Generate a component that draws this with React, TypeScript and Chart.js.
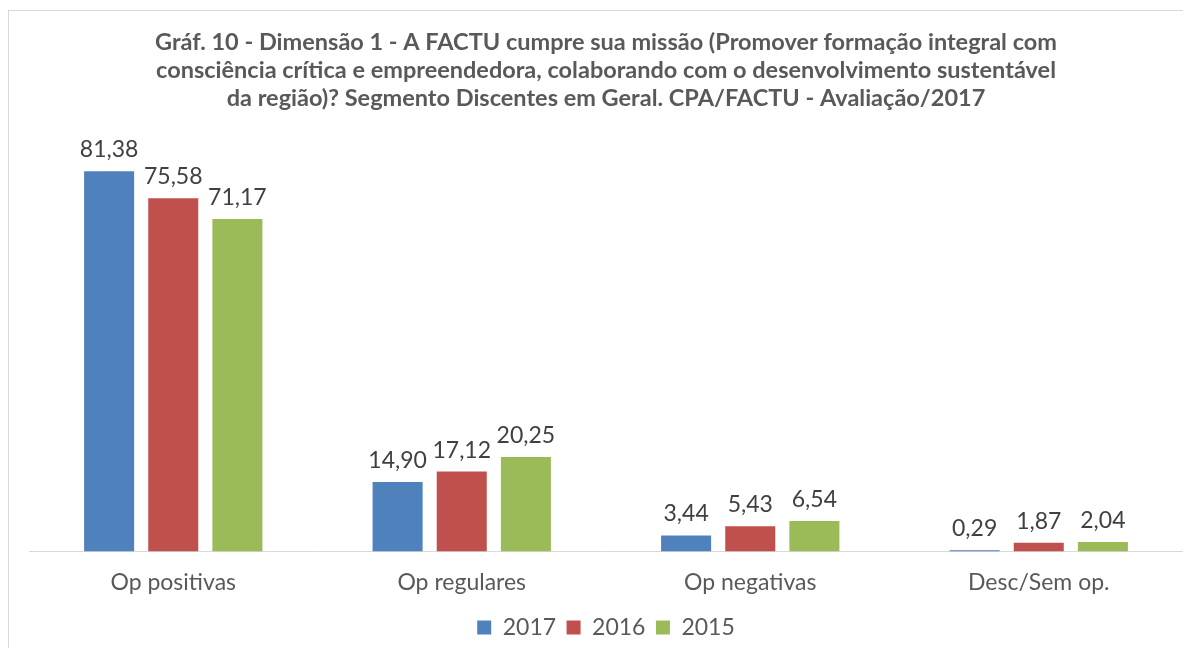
import React, { useEffect, useRef } from "react";
import { Chart, registerables } from "chart.js";

Chart.register(...registerables);

const categories = ["Op positivas", "Op regulares", "Op negativas", "Desc/Sem op."];
const seriesNames = ["2017", "2016", "2015"];
const values2017 = [81.38, 14.9, 3.44, 0.29];
const values2016 = [75.58, 17.12, 5.43, 1.87];
const values2015 = [71.17, 20.25, 6.54, 2.04];
const colors = ["#4F81BD", "#C0504D", "#9BBB59"];
const titleLines = [
  "Gráf. 10 - Dimensão 1 - A FACTU cumpre sua missão (Promover formação integral com",
  "consciência crítica e empreendedora, colaborando com o desenvolvimento sustentável",
  "da região)? Segmento Discentes em Geral. CPA/FACTU - Avaliação/2017",
];

const FONT = "Lato, 'Open Sans', sans-serif";

const valueLabels = {
  id: "valueLabels",
  afterDatasetsDraw(chart: any) {
    const ctx = chart.ctx;
    ctx.save();
    ctx.font = `23px ${FONT}`;
    ctx.fillStyle = "#404040";
    ctx.textAlign = "center";
    ctx.textBaseline = "alphabetic";
    chart.data.datasets.forEach((ds: any, i: number) => {
      const meta = chart.getDatasetMeta(i);
      meta.data.forEach((el: any, j: number) => {
        const v = ds.data[j] as number;
        ctx.fillText(v.toFixed(2).replace(".", ","), el.x, el.y - 14);
      });
    });
    ctx.restore();
  },
};

export default function App() {
  const ref = useRef<HTMLCanvasElement>(null);
  useEffect(() => {
    document.body.style.overflow = "hidden";
    const chart = new Chart(ref.current!, {
      type: "bar",
      data: {
        labels: categories,
        datasets: [values2017, values2016, values2015].map((d, i) => ({
          label: seriesNames[i],
          data: d,
          backgroundColor: colors[i],
          barPercentage: 0.78,
          categoryPercentage: 0.667,
        })),
      },
      options: {
        animation: false,
        responsive: false,
        layout: { padding: { left: 20, right: 8, top: 0, bottom: 0 } },
        plugins: {
          title: {
            display: true,
            text: titleLines,
            color: "#595959",
            font: { family: FONT, size: 23.5, weight: "bold", lineHeight: 28 / 23.5 },
            padding: { top: 17, bottom: 19 },
          },
          legend: {
            position: "bottom",
            labels: {
              color: "#595959",
              font: { family: FONT, size: 23 },
              boxWidth: 14,
              boxHeight: 14,
              padding: 10.5,
            },
          },
          tooltip: { enabled: false },
        },
        scales: {
          x: {
            grid: { display: false },
            border: { display: true, color: "#d9d9d9", width: 1 },
            ticks: { color: "#595959", font: { family: FONT, size: 23 }, padding: 9.2 },
          },
          y: { display: false, min: 0, max: 90 },
        },
      },
      plugins: [valueLabels],
    });
    return () => chart.destroy();
  }, []);
  return (
    <div style={{ width: 1182, height: 638, border: "1px solid #d9d9d9", marginTop: 2, background: "#fff" }}>
      <canvas ref={ref} width={1182} height={638} />
    </div>
  );
}
